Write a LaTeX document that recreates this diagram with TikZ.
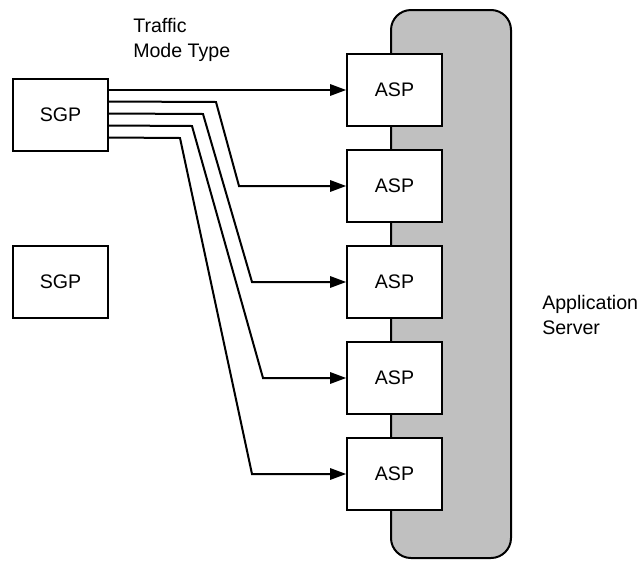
\documentclass[tikz,border=0pt]{standalone}
\usepackage{fontspec}
\setmainfont{Liberation Sans}
\usetikzlibrary{arrows.meta}
\begin{document}
\begin{tikzpicture}[x=0.75pt,y=-0.75pt,
  every node/.style={font=\fontsize{14.7pt}{18.5pt}\selectfont},
  box/.style={draw,line width=1.5pt,fill=white,minimum width=71pt,minimum height=54pt,inner sep=0pt},
  flow/.style={line width=1.5pt,-{Triangle[length=12pt,width=8.5pt]}},
  lbl/.style={align=left,anchor=base west,inner sep=0pt}]
\useasboundingbox (0,0) rectangle (643,561);
\draw[line width=1.5pt,fill={rgb,255:red,192;green,192;blue,192},rounded corners=15pt] (391,10) rectangle (511,558);
\node[box] (sgp1) at (60.5,114.5) {SGP};
\node[box] (sgp2) at (60.5,282) {SGP};
\node[box] (asp1) at (394.5,90) {ASP};
\node[box] (asp2) at (394.5,186) {ASP};
\node[box] (asp3) at (394.5,282) {ASP};
\node[box] (asp4) at (394.5,378) {ASP};
\node[box] (asp5) at (394.5,474) {ASP};
\node[lbl] (tmt) at (133,57) {Traffic\\Mode Type};
\node[lbl] (as) at (542,334) {Application\\Server};
\coordinate (k2) at (239,0);
\coordinate (k3) at (252,0);
\coordinate (k4) at (263,0);
\coordinate (k5) at (252,0);
\draw[flow] (asp1.west -| sgp1.east) -- (asp1.west);
\draw[flow] ([yshift=-18pt]sgp1.north east) -- (216,102) -- (asp2.west -| k2) -- (asp2.west);
\draw[flow] ([yshift=-27pt]sgp1.north east) -- (203,114) -- (asp3.west -| k3) -- (asp3.west);
\draw[flow] ([yshift=-36pt]sgp1.north east) -- (192,126) -- (asp4.west -| k4) -- (asp4.west);
\draw[flow] ([yshift=-45pt]sgp1.north east) -- (180,138) -- (asp5.west -| k5) -- (asp5.west);
\end{tikzpicture}
\end{document}
